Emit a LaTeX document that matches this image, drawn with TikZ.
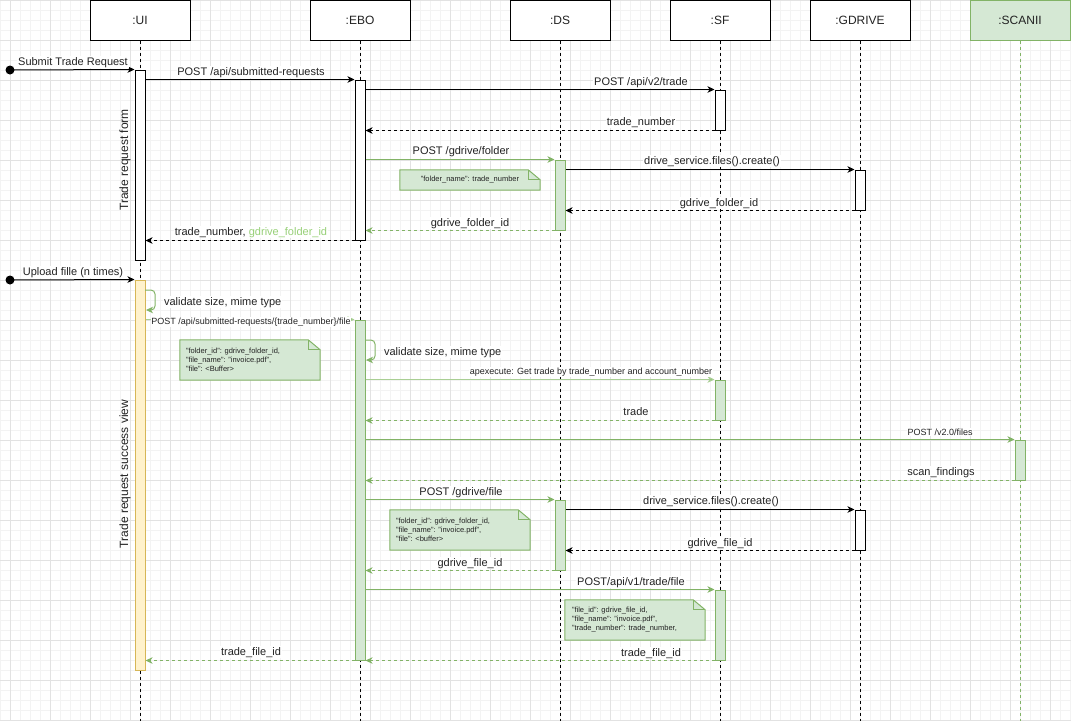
\documentclass[tikz,border=0pt]{standalone}
\usepackage{fontspec}
\setmainfont{Liberation Sans}
\usetikzlibrary{arrows.meta}
\definecolor{gline}{HTML}{82B366}
\definecolor{glight}{HTML}{A9CF94}
\definecolor{gfill}{HTML}{D5E8D4}
\definecolor{yfill}{HTML}{FFF2CC}
\definecolor{yline}{HTML}{D6B656}
\definecolor{txt}{HTML}{222222}
\definecolor{gridmajor}{HTML}{E2E2E2}
\definecolor{gridminor}{HTML}{F3F3F3}
\definecolor{glabel}{HTML}{97D077}
\tikzset{
  hdr/.style={draw, line width=1pt, fill=white, minimum width=100pt, minimum height=40pt, inner sep=0pt, font=\fontsize{12}{14}\selectfont, text=txt},
  hdrgreen/.style={hdr, draw=gline, fill=gfill},
  life/.style={line width=1pt, dash pattern=on 3pt off 3pt},
  lifegreen/.style={life, draw=gline},
  act/.style={draw, line width=1pt, fill=white, minimum width=10pt, inner sep=0pt},
  actgreen/.style={act, draw=gline, fill=gfill},
  actyellow/.style={act, draw=yline, fill=yfill},
  tip/.style={-{Stealth[length=7pt,width=6.5pt,inset=2pt]}},
  msg/.style={tip, line width=1pt},
  ret/.style={msg, dash pattern=on 3pt off 3pt},
  gmsg/.style={msg, draw=gline, -{Stealth[length=7pt,width=6.5pt,inset=2pt,fill=gline]}},
  gmsgthick/.style={gmsg, draw=glight, line width=1.6pt, -{Stealth[length=7pt,width=6.5pt,inset=2pt,fill=gline,line width=1pt]}},
  gret/.style={gmsg, dash pattern=on 3pt off 3pt},
  lbl/.style={font=\fontsize{11}{13}\selectfont, text=txt, inner sep=0.8pt, fill=white, anchor=base, yshift=-4pt},
  slbl/.style={font=\fontsize{9}{11}\selectfont, text=txt, inner sep=0.8pt, fill=white, anchor=base, yshift=-3.2pt},
  notebox/.style={inner sep=0pt, minimum height=#1},
  notepath/.style={draw=gline, fill=gfill, line width=1pt},
  notetxt/.style={font=\fontsize{7.5}{9}\selectfont, text=txt, inner sep=0pt, align=left},
  startdot/.style={circle, fill=black, minimum size=9pt, inner sep=0pt},
  vlbl/.style={font=\fontsize{12}{14}\selectfont, text=txt, rotate=90, inner sep=0pt}
}
\begin{document}
\begin{tikzpicture}[x=1pt,y=-1pt]
\useasboundingbox (0,0) rectangle (1071,721);
% grid
\foreach \x in {0,10,...,1070} \draw[gridminor, line width=0.8pt] (\x,0) -- (\x,721);
\foreach \y in {0,10,...,720} \draw[gridminor, line width=0.8pt] (0,\y) -- (1071,\y);
\foreach \x in {10,50,...,1050} \draw[gridmajor, line width=1pt] (\x,0) -- (\x,721);
\foreach \y in {0,40,...,720} \draw[gridmajor, line width=1pt] (0,\y) -- (1071,\y);

% headers
\node[hdr] (ui) at (140,20) {:UI};
\node[hdr] (ebo) at (360,20) {:EBO};
\node[hdr] (ds) at (560,20) {:DS};
\node[hdr] (sf) at (720,20) {:SF};
\node[hdr] (gd) at (860,20) {:GDRIVE};
\node[hdrgreen] (sc) at (1020,20) {:SCANII};
\coordinate (bottom) at (0,721);

% lifelines
\draw[life] (ui.south) -- (ui.south |- bottom);
\draw[life] (ebo.south) -- (ebo.south |- bottom);
\draw[life] (ds.south) -- (ds.south |- bottom);
\draw[life] (sf.south) -- (sf.south |- bottom);
\draw[life] (gd.south) -- (gd.south |- bottom);
\draw[lifegreen] (sc.south) -- (sc.south |- bottom);

% activations
\node[act, minimum height=190pt] (uiA1) at (140,165) {};
\node[act, minimum height=160pt] (ebA1) at (360,160) {};
\node[act, minimum height=40pt] (sfA1) at (720,110) {};
\node[actgreen, minimum height=70pt] (dsA1) at (560,195) {};
\node[act, minimum height=40pt] (gdA1) at (860,190) {};
\node[actyellow, minimum height=390pt] (uiA2) at (140,475) {};
\node[actgreen, minimum height=340pt] (ebA2) at (360,490) {};
\node[actgreen, minimum height=40pt] (sfA2) at (720,400) {};
\node[actgreen, minimum height=40pt] (scA1) at (1020,460) {};
\node[actgreen, minimum height=70pt] (dsA2) at (560,535) {};
\node[act, minimum height=40pt] (gdA2) at (860,530) {};
\node[actgreen, minimum height=70pt] (sfA3) at (720,625) {};

% vertical labels
\node[vlbl] (vform) at (125,160) {Trade request form};
\node[vlbl] (vsucc) at (125,474) {Trade request success view};

% first phase
\node[startdot] (s1) at (10,70) {};
\draw[msg] (s1.center) -- (uiA1.north west);
\node[lbl] (l1) at (73,61) {Submit Trade Request};

\draw[msg] (uiA1.east |- ebA1.north) -- (ebA1.north west);
\node[lbl] (l2) at (251,71) {POST /api/submitted-requests};

\draw[msg] (ebA1.east |- sfA1.north) -- (sfA1.north west);
\node[lbl] (l3) at (641,81) {POST /api/v2/trade};

\draw[ret] (sfA1.south west) -- (ebA1.east |- sfA1.south);
\node[lbl] (l4) at (641,121) {trade\_number};

\draw[gmsg] (ebA1.east |- dsA1.north) -- (dsA1.north west);
\node[lbl] (l5) at (461,150) {POST /gdrive/folder};

\node[notebox=20pt, minimum width=140pt] (n1) at (470,180) {};
\draw[notepath] (n1.north west) -- ([xshift=-12pt]n1.north east) -- ([yshift=-10pt]n1.north east) -- (n1.south east) -- (n1.south west) -- cycle;
\draw[gline, line width=1pt] ([xshift=-12pt]n1.north east) -- ([xshift=-12pt,yshift=-10pt]n1.north east) -- ([yshift=-10pt]n1.north east);
\node[notetxt] (n1t) at (n1.center) {"folder\_name": trade\_number};

\draw[msg] (dsA1.east |- gdA1.north) -- (gdA1.north west);
\node[lbl] (l6) at (712,160) {drive\_service.files().create()};

\draw[ret] (gdA1.south west) -- (dsA1.east |- gdA1.south);
\node[lbl] (l7) at (719,202) {gdrive\_folder\_id};

\draw[gret] (dsA1.south west) -- (ebA1.east |- dsA1.south);
\node[lbl] (l8) at (470,222) {gdrive\_folder\_id};

\draw[ret] (ebA1.south west) -- (uiA1.east |- ebA1.south);
\node[lbl] (l9) at (251,231) {trade\_number, \textcolor{glabel}{gdrive\_folder\_id}};

% second phase
\node[startdot] (s2) at (10,280) {};
\draw[msg] (s2.center) -- (uiA2.north west);
\node[lbl] (l10) at (73,271) {Upload fille (n times)};

\coordinate (ul1) at (145,290);
\coordinate (ul2) at (146,310);
\draw[gmsg, rounded corners=4pt] (ul1) -- ++(10,0) -- ++(0,20) -- (ul2);
\node[lbl, anchor=base west] (l11) at (163,301) {validate size, mime type};

\draw[gmsgthick] (uiA2.east |- ebA2.north) -- (ebA2.north west);
\node[slbl] (l12) at (251,321) {POST /api/submitted-requests/\{trade\_number\}/file};

\node[notebox=40pt, minimum width=140pt] (n2) at (250,360) {};
\draw[notepath] (n2.north west) -- ([xshift=-12pt]n2.north east) -- ([yshift=-10pt]n2.north east) -- (n2.south east) -- (n2.south west) -- cycle;
\draw[gline, line width=1pt] ([xshift=-12pt]n2.north east) -- ([xshift=-12pt,yshift=-10pt]n2.north east) -- ([yshift=-10pt]n2.north east);
\node[notetxt, anchor=west] (n2t) at ([xshift=6pt]n2.west) {"folder\_id": gdrive\_folder\_id,\\"file\_name": "invoice.pdf",\\"file": <Buffer>};

\coordinate (el1) at (365,340);
\coordinate (el2) at (366,360);
\draw[gmsg, rounded corners=4pt] (el1) -- ++(10,0) -- ++(0,20) -- (el2);
\node[lbl, anchor=base west] (l13) at (383,351) {validate size, mime type};

\draw[gmsgthick] (ebA2.east |- sfA2.north) -- (sfA2.north west);
\node[slbl] (l14) at (591,371) {apexecute: Get trade by trade\_number and account\_number};

\draw[gret] (sfA2.south west) -- (ebA2.east |- sfA2.south);
\node[lbl] (l15) at (636,411) {trade};

\draw[gmsg] (ebA2.east |- scA1.north) -- (scA1.north west);
\node[slbl] (l16) at (940,432) {POST /v2.0/files};

\draw[gret] (scA1.south west) -- (ebA2.east |- scA1.south);
\node[lbl] (l17) at (941,471) {scan\_findings};

\draw[gmsg] (ebA2.east |- dsA2.north) -- (dsA2.north west);
\node[lbl] (l18) at (461,491) {POST /gdrive/file};

\node[notebox=40pt, minimum width=140pt] (n3) at (460,530) {};
\draw[notepath] (n3.north west) -- ([xshift=-12pt]n3.north east) -- ([yshift=-10pt]n3.north east) -- (n3.south east) -- (n3.south west) -- cycle;
\draw[gline, line width=1pt] ([xshift=-12pt]n3.north east) -- ([xshift=-12pt,yshift=-10pt]n3.north east) -- ([yshift=-10pt]n3.north east);
\node[notetxt, anchor=west] (n3t) at ([xshift=6pt]n3.west) {"folder\_id": gdrive\_folder\_id,\\"file\_name": "invoice.pdf",\\"file": <buffer>};

\draw[msg] (dsA2.east |- gdA2.north) -- (gdA2.north west);
\node[lbl] (l19) at (711,500) {drive\_service.files().create()};

\draw[ret] (gdA2.south west) -- (dsA2.east |- gdA2.south);
\node[lbl] (l20) at (720,542) {gdrive\_file\_id};

\draw[gret] (dsA2.south west) -- (ebA2.east |- dsA2.south);
\node[lbl] (l21) at (470,562) {gdrive\_file\_id};

\draw[gmsg] (ebA2.east |- sfA3.north) -- (sfA3.north west);
\node[lbl] (l22) at (631,581) {POST/api/v1/trade/file};

\node[notebox=40pt, minimum width=140pt] (n4) at (635,620) {};
\draw[notepath] (n4.north west) -- ([xshift=-12pt]n4.north east) -- ([yshift=-10pt]n4.north east) -- (n4.south east) -- (n4.south west) -- cycle;
\draw[gline, line width=1pt] ([xshift=-12pt]n4.north east) -- ([xshift=-12pt,yshift=-10pt]n4.north east) -- ([yshift=-10pt]n4.north east);
\node[notetxt, anchor=west] (n4t) at ([xshift=7pt]n4.west) {"file\_id": gdrive\_file\_id,\\"file\_name": "invoice.pdf",\\"trade\_number": trade\_number,};

\draw[gret] (sfA3.south west) -- (ebA2.east |- sfA3.south);
\node[lbl] (l23) at (651,652) {trade\_file\_id};

\draw[gret] (ebA2.south west) -- (uiA2.east |- ebA2.south);
\node[lbl] (l24) at (251,651) {trade\_file\_id};
\end{tikzpicture}
\end{document}
